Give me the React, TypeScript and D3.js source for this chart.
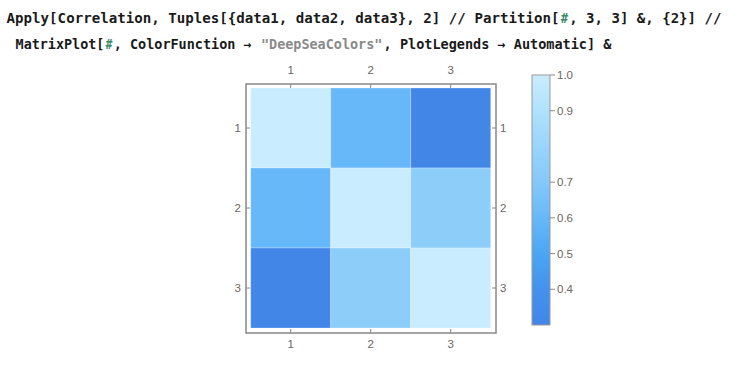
import * as d3 from "d3";

// correlation matrix
const labels = [1, 2, 3];
const matrix = [
  [1.0, 0.6, 0.3],
  [0.6, 1.0, 0.74],
  [0.3, 0.74, 1.0],
];
const legendTicks = [1.0, 0.9, 0.7, 0.6, 0.5, 0.4];

// DeepSeaColors-like ramp over the data range
const colorStops = [0.29, 0.3, 0.4, 0.5, 0.6, 0.7, 0.8, 0.9, 1.0];
const colorValues = ["#5a6bdc", "#4286e8", "#4491ed", "#4ba6f4", "#67b8f8", "#85c8fa", "#99d4fb", "#b0e1fd", "#c9ecfe"];

// input code, split into coloured pieces
const codeLine1 = [
  { t: "Apply[Correlation, Tuples[{data1, data2, data3}, 2] // Partition[", c: "#1a1a1a" },
  { t: "#", c: "#3a8a6a" },
  { t: ", 3, 3] &, {2}] //", c: "#1a1a1a" },
];
const codeLine2 = [
  { t: "MatrixPlot[", c: "#1a1a1a" },
  { t: "#", c: "#3a8a6a" },
  { t: ", ColorFunction → ", c: "#1a1a1a" },
  { t: "\"DeepSeaColors\"", c: "#8a8a8a" },
  { t: ", PlotLegends → Automatic] &", c: "#1a1a1a" },
];

const W = 735;
const H = 365;

function CodeLine({ parts, x0, y0, width, size }: { parts: { t: string; c: string }[]; x0: number; y0: number; width: number; size: number }) {
  const total = parts.reduce((s, p) => s + p.t.length, 0);
  const adv = width / total;
  let off = 0;
  return (
    <g fontSize={size}>
      {parts.map((p, i) => {
        const x = x0 + off * adv + 0.6;
        off += p.t.length;
        return (
          <text key={i} x={x} y={y0} fill={p.c} textLength={p.t.length * adv - 1.2} lengthAdjust="spacingAndGlyphs" style={{ whiteSpace: "pre" }}>
            {p.t}
          </text>
        );
      })}
    </g>
  );
}

export default function App() {
  const x = d3.scaleBand<number>().domain(labels).range([250.7, 490.7]);
  const y = d3.scaleBand<number>().domain(labels).range([88, 328]);
  const color = d3.scaleLinear<string>().domain(colorStops).range(colorValues).interpolate(d3.interpolateRgb).clamp(true);

  const minV = d3.min(matrix.flat()) as number;
  const legY = d3.scaleLinear().domain([minV, 1]).range([325, 75]);
  // offsets must increase: 0% = top = 1.0
  const gradStops = d3.range(0, 1.0001, 0.02).map((t) => {
    const v = 1 - t * (1 - minV);
    return { offset: `${(t * 100).toFixed(1)}%`, color: color(v) };
  });

  const frame = { x0: 246, x1: 496, y0: 84, y1: 333 };
  const tickColor = "#888";
  const labelColor = "#6e6660";
  const fontFamily = "'Liberation Sans', Arial, sans-serif";

  return (
    <svg width={W} height={H} style={{ position: "absolute", left: 0, top: 0, background: "#fff" }}>
      <defs>
        <linearGradient id="leg" x1="0" y1="0" x2="0" y2="1">
          {gradStops.map((s) => (
            <stop key={s.offset} offset={s.offset} stopColor={s.color} />
          ))}
        </linearGradient>
      </defs>

      {/* code input */}
      <g fontFamily="'DejaVu Sans Mono', 'Liberation Mono', monospace" fontWeight="bold">
        <CodeLine parts={codeLine1} x0={6} y0={23} width={716} size={14} />
        <CodeLine parts={codeLine2} x0={15} y0={49} width={597} size={13.2} />
      </g>

      {/* cells */}
      {matrix.map((row, i) =>
        row.map((v, j) => (
          <rect
            key={`${i}-${j}`}
            x={x(labels[j])}
            y={y(labels[i])}
            width={x.bandwidth()}
            height={y.bandwidth()}
            fill={color(v)}
            stroke="rgba(255,255,255,0.25)"
            strokeWidth={1}
          />
        ))
      )}

      {/* frame */}
      <rect x={frame.x0} y={frame.y0} width={frame.x1 - frame.x0} height={frame.y1 - frame.y0} fill="none" stroke={tickColor} strokeWidth={1.5} />

      {/* ticks + labels */}
      <g fontFamily={fontFamily} fontSize={11.5} fill={labelColor}>
        {labels.map((l) => {
          const cx = (x(l) as number) + x.bandwidth() / 2;
          const cy = (y(l) as number) + y.bandwidth() / 2;
          return (
            <g key={l}>
              <line x1={cx} x2={cx} y1={frame.y0} y2={frame.y0 + 4} stroke={tickColor} />
              <line x1={cx} x2={cx} y1={frame.y1} y2={frame.y1 - 4} stroke={tickColor} />
              <line x1={frame.x0} x2={frame.x0 + 4} y1={cy} y2={cy} stroke={tickColor} />
              <line x1={frame.x1} x2={frame.x1 - 4} y1={cy} y2={cy} stroke={tickColor} />
              <text x={cx} y={74} textAnchor="middle">{l}</text>
              <text x={cx} y={348} textAnchor="middle">{l}</text>
              <text x={241} y={cy + 4} textAnchor="end">{l}</text>
              <text x={500} y={cy + 4}>{l}</text>
            </g>
          );
        })}
      </g>

      {/* legend */}
      <rect x={532} y={75} width={18} height={250} fill="url(#leg)" stroke="#9a9a9a" strokeWidth={1} />
      <g fontFamily={fontFamily} fontSize={11.5} fill={labelColor}>
        {legendTicks.map((t) => (
          <g key={t}>
            <line x1={550} x2={555} y1={legY(t)} y2={legY(t)} stroke={tickColor} />
            <text x={557} y={legY(t) + 4}>{t.toFixed(1)}</text>
          </g>
        ))}
      </g>
    </svg>
  );
}
